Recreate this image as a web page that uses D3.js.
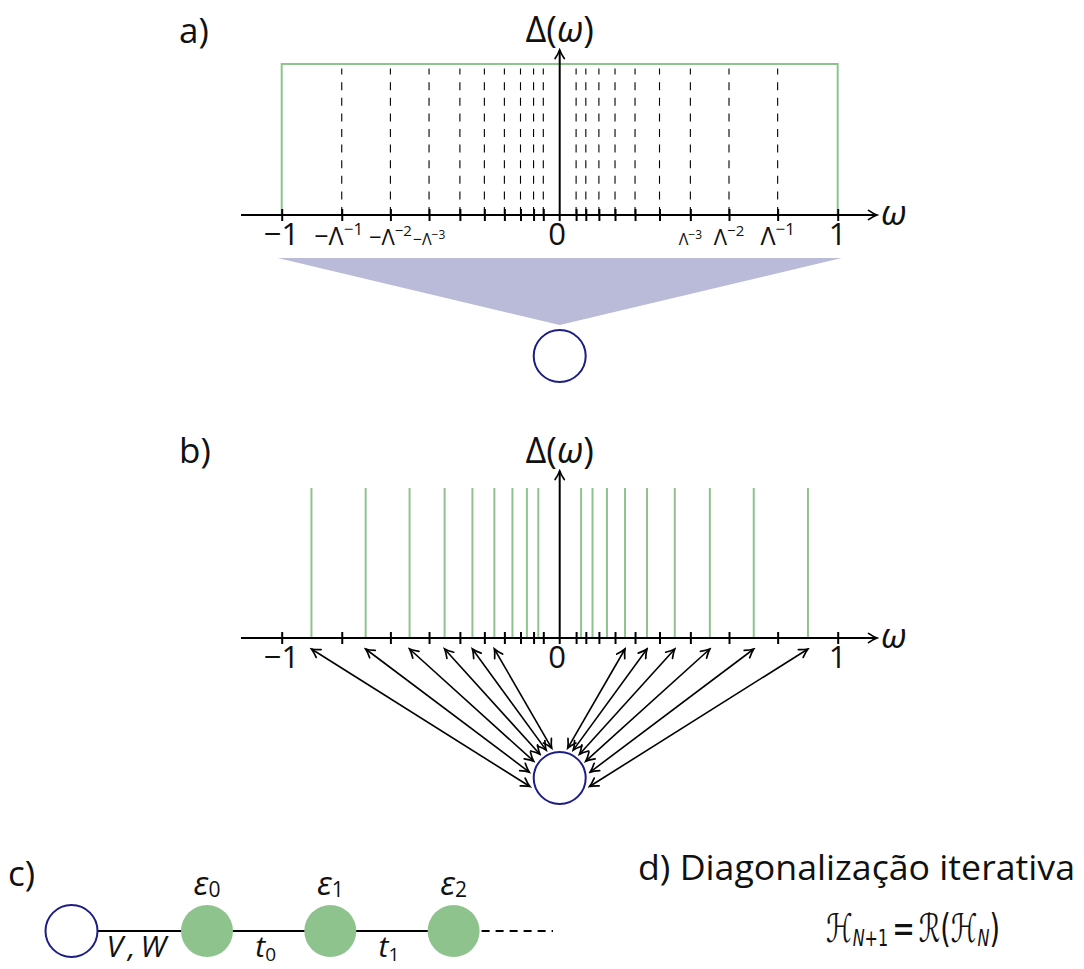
<!DOCTYPE html>
<html>
<head>
<meta charset="utf-8">
<script src="https://cdn.jsdelivr.net/npm/d3@7"></script>
<style>
  html, body { margin: 0; padding: 0; background: #fff; }
  svg { display: block; }
  text { font-family: "Open Sans", "DejaVu Sans", sans-serif; fill: #111; }
</style>
</head>
<body>
<svg id="fig" width="1084" height="969"></svg>
<script>
// Logarithmic grid points ±Λ^-n (positive magnitudes)
const gridTicks = [0.784, 0.609, 0.470, 0.359, 0.271, 0.199, 0.141, 0.094, 0.059];
// Representative energy of every interval (positive magnitudes)
const poleEnergies = [0.893, 0.698, 0.540, 0.414, 0.314, 0.235, 0.170, 0.118, 0.077];
// Poles that are drawn coupled to the impurity in panel b
const coupledEnergies = [-0.893, -0.698, -0.540, -0.414, -0.314, -0.235,
                          0.235, 0.314, 0.414, 0.540, 0.698, 0.893];
// Flat hybridisation function between the band edges
const bandEdges = [-1, 1];
const bandLevel = 1;
const poleLevel = 1;
// Labels for the first grid points
const gridExponents = ["−1", "−2", "−3"];
// Wilson chain: sites, on-site energies and hoppings
const chainSites = ["imp", "0", "1", "2"];
const chainBonds = [{ main: "V\u2009,\u2009W", sub: "" }, { main: "t", sub: "0" }, { main: "t", sub: "1" }];
const panelTitles = ["a)", "b)", "c)"];
const iterTitle = "d) Diagonalização iterativa";

const GREEN = "#8fc38d";
const NAVY = "#1d1d84";
const LAVENDER = "#babbd9";

const svg = d3.select("#fig");
const defs = svg.append("defs");

// open barb arrow head, TikZ style
defs.append("marker")
  .attr("id", "head")
  .attr("viewBox", "-10 -6 12 12")
  .attr("refX", 0).attr("refY", 0)
  .attr("markerWidth", 12).attr("markerHeight", 12)
  .attr("markerUnits", "userSpaceOnUse")
  .attr("orient", "auto-start-reverse")
  .append("path")
  .attr("d", "M-8.5,-4.6 Q-3.5,-1.2 0,0 Q-3.5,1.2 -8.5,4.6")
  .attr("fill", "none").attr("stroke", "#000").attr("stroke-width", 1.7)
  .attr("stroke-linecap", "round");

const x = d3.scaleLinear().domain([-1, 1]).range([281.7, 837.7]);
const allTicks = gridTicks.map(d => -d).concat(gridTicks);

function axes(g, y, topY, labelBase) {
  // horizontal axis with arrow
  g.append("line")
    .attr("x1", 241).attr("x2", 877).attr("y1", y(0)).attr("y2", y(0))
    .attr("stroke", "#000").attr("stroke-width", 2)
    .attr("marker-end", "url(#head)");
  // vertical axis with arrow
  g.append("line")
    .attr("x1", x(0)).attr("x2", x(0)).attr("y1", y(0) + 6).attr("y2", topY)
    .attr("stroke", "#000").attr("stroke-width", 2)
    .attr("marker-end", "url(#head)");
  // ticks crossing the axis
  const ax = d3.axisBottom(x).tickValues(allTicks.concat([-1, 1])).tickSize(6).tickFormat("");
  const axG = g.append("g").attr("transform", `translate(0,${y(0)})`).call(ax);
  axG.select(".domain").remove();
  axG.selectAll(".tick line").attr("y1", -6).attr("stroke", "#000").attr("stroke-width", 2);
  // axis names
  g.append("text").attr("x", 881).attr("y", y(0) + 10)
    .attr("font-size", 35).attr("font-style", "italic").text("ω");
  const lab = g.append("text").attr("x", x(0)).attr("y", topY - 8)
    .attr("text-anchor", "middle").attr("font-size", 36);
  lab.append("tspan").text("Δ(");
  lab.append("tspan").attr("font-style", "italic").text("ω");
  lab.append("tspan").text(")");
  // main tick labels
  [[-1, "−1", 281.5], [0, "0", 557], [1, "1", 837.5]].forEach(([v, t, px]) => {
    g.append("text").attr("x", px).attr("y", labelBase)
      .attr("text-anchor", "middle").attr("font-size", 31).text(t);
  });
}

// ---------- panel a: continuous flat band with logarithmic grid ----------
const ya = d3.scaleLinear().domain([0, 1]).range([215, 64]);
const ga = svg.append("g");

// projection of the band onto the impurity
ga.append("path")
  .attr("d", d3.line()([[x(bandEdges[0]) - 4, 258], [x(bandEdges[1]) + 4, 258], [x(0), 325]]) + "Z")
  .attr("fill", LAVENDER);

ga.selectAll("line.grid").data(allTicks).join("line")
  .attr("class", "grid")
  .attr("x1", d => x(d)).attr("x2", d => x(d))
  .attr("y1", ya(0)).attr("y2", ya(0.97))
  .attr("stroke", "#000").attr("stroke-width", 1.1)
  .attr("stroke-dasharray", "8,7.6");

ga.append("path")
  .attr("d", d3.line().x(d => x(d[0])).y(d => ya(d[1]))([
    [bandEdges[0], 0], [bandEdges[0], bandLevel], [bandEdges[1], bandLevel], [bandEdges[1], 0]
  ]))
  .attr("fill", "none").attr("stroke", GREEN).attr("stroke-width", 2);

axes(ga, ya, 50, 245);

// Λ^-n labels on both sides
const expSizes = [[25, 17, 10], [22, 15, 9], [16, 12, 6]];
gridExponents.forEach((e, i) => {
  const [fs, es, rise] = expSizes[i];
  [-1, 1].forEach(sgn => {
    const t = ga.append("text")
      .attr("x", x(sgn * gridTicks[i]) + (sgn < 0 && i === 0 ? -3 : 0))
      .attr("y", 245).attr("text-anchor", "middle").attr("font-size", fs);
    t.append("tspan").text((sgn < 0 ? "−" : "") + "Λ");
    t.append("tspan").attr("font-size", es).attr("dy", -rise).text(e);
  });
});

ga.append("circle").attr("cx", x(0)).attr("cy", 356).attr("r", 26)
  .attr("fill", "#fff").attr("stroke", NAVY).attr("stroke-width", 2);

ga.append("text").attr("x", 179).attr("y", 43).attr("font-size", 35).text(panelTitles[0]);

// ---------- panel b: discretised poles coupled to the impurity ----------
const yb = d3.scaleLinear().domain([0, 1]).range([638, 488]);
const gb = svg.append("g");
const poles = poleEnergies.map(d => -d).concat(poleEnergies);

gb.selectAll("line.pole").data(poles).join("line")
  .attr("class", "pole")
  .attr("x1", d => x(d)).attr("x2", d => x(d))
  .attr("y1", yb(0)).attr("y2", yb(poleLevel))
  .attr("stroke", GREEN).attr("stroke-width", 2);

axes(gb, yb, 471, 668);

const node = { x: x(0), y: 778, r: 26 };
gb.append("circle").attr("cx", node.x).attr("cy", node.y).attr("r", node.r)
  .attr("fill", "#fff").attr("stroke", NAVY).attr("stroke-width", 2);

// double-headed couplings; outer poles attach lower on the node
const rank = d3.scaleLinear().domain([0.235, 0.893]).range([15, 106]);
gb.selectAll("line.coup").data(coupledEnergies).join("line")
  .attr("class", "coup")
  .attr("x1", d => x(d)).attr("y1", yb(0) + 11)
  .attr("x2", d => node.x + Math.sign(d) * 31 * Math.sin(rank(Math.abs(d)) * Math.PI / 180))
  .attr("y2", d => node.y - 31 * Math.cos(rank(Math.abs(d)) * Math.PI / 180))
  .attr("stroke", "#000").attr("stroke-width", 1.6)
  .attr("marker-start", "url(#head)").attr("marker-end", "url(#head)");

gb.append("text").attr("x", 179).attr("y", 463).attr("font-size", 35).text(panelTitles[1]);

// ---------- panel c: Wilson chain ----------
const gc = svg.append("g");
const cy = 931;
const sx = d3.scaleLinear().domain([0, 1, 3]).range([71.5, 207, 453.6]);

gc.append("line").attr("x1", sx(0)).attr("x2", sx(3)).attr("y1", cy).attr("y2", cy)
  .attr("stroke", "#000").attr("stroke-width", 1.8);
gc.append("line").attr("x1", sx(3)).attr("x2", 553).attr("y1", cy).attr("y2", cy)
  .attr("stroke", "#000").attr("stroke-width", 1.8).attr("stroke-dasharray", "8,6");

gc.selectAll("circle").data(chainSites).join("circle")
  .attr("cx", (d, i) => sx(i)).attr("cy", cy).attr("r", 26)
  .attr("fill", (d, i) => i === 0 ? "#fff" : GREEN)
  .attr("stroke", (d, i) => i === 0 ? NAVY : "none")
  .attr("stroke-width", 2);

chainSites.slice(1).forEach((s, i) => {
  const t = gc.append("text").attr("x", sx(i + 1)).attr("y", 895)
    .attr("text-anchor", "middle").attr("font-size", 33);
  t.append("tspan").attr("font-style", "italic").text("ε");
  t.append("tspan").attr("font-size", 21).attr("dy", 2).text(s);
});

chainBonds.forEach((b, i) => {
  const t = gc.append("text").attr("x", (sx(i) + sx(i + 1)) / 2 - 3).attr("y", 957)
    .attr("text-anchor", "middle").attr("font-size", 30);
  t.append("tspan").attr("font-style", "italic").text(b.main);
  if (b.sub) t.append("tspan").attr("font-size", 19).attr("dy", 4).text(b.sub);
});

gc.append("text").attr("x", 8).attr("y", 886).attr("font-size", 35).text(panelTitles[2]);

// ---------- panel d: iterative diagonalisation ----------
const gd = svg.append("g");
gd.append("text").attr("x", 638).attr("y", 880).attr("font-size", 35)
  .attr("textLength", 437).attr("lengthAdjust", "spacingAndGlyphs").text(iterTitle);
// recursion relation, script letters stretched to the height of the title text
const f = gd.append("text")
  .attr("transform", "translate(913,942) scale(1,1.45)")
  .attr("text-anchor", "middle").attr("font-size", 27)
  .style("font-family", "'DejaVu Sans', sans-serif");
f.append("tspan").text("ℋ");
f.append("tspan").attr("font-size", 16).attr("font-style", "italic").attr("dy", 3).text("N");
f.append("tspan").attr("font-size", 16).text("+1");
f.append("tspan").attr("dy", -3).attr("dx", 4).text("=");
f.append("tspan").attr("dx", 4).text("ℛ(ℋ");
f.append("tspan").attr("font-size", 16).attr("font-style", "italic").attr("dy", 3).text("N");
f.append("tspan").attr("dy", -3).text(")");
</script>
</body>
</html>
